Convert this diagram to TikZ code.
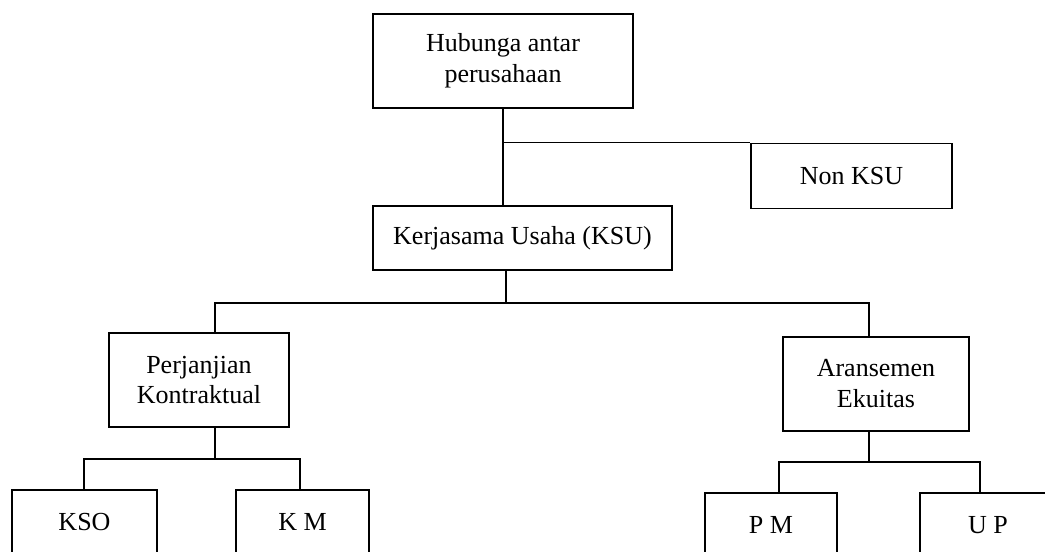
\documentclass[tikz,border=0pt]{standalone}
\usepackage{fontspec}
\setmainfont{Liberation Serif}
\usepackage{tikz}

\begin{document}
\begin{tikzpicture}
  [
    x=0.025cm, y=-0.025cm,
    box/.style={draw=black, line width=1.1pt, align=center, inner sep=0pt,
      font=\fontsize{18.5}{22}\selectfont},
    ln/.style={draw=black, line width=1.1pt}
  ]
  \useasboundingbox (0,0) rectangle (1045,552);

  \node (hub)    at (503,61)    [box, minimum width=6.5cm,   minimum height=2.35cm] {Hubunga antar\\perusahaan};
  \node (nonksu) at (851.5,176) [box, minimum width=5.025cm, minimum height=1.625cm] {Non KSU};
  \node (ksu)    at (522.5,238) [box, minimum width=7.475cm, minimum height=1.6cm] {Kerjasama Usaha (KSU)};

  \node (perj)   at (199,380)   [box, minimum width=4.5cm,   minimum height=2.35cm] {Perjanjian\\Kontraktual};
  \node (aran)   at (876,384)   [box, minimum width=4.65cm,  minimum height=2.35cm] {Aransemen\\Ekuitas};

  \node (kso)    at (84.5,522)  [box, minimum width=3.625cm, minimum height=1.6cm] {KSO};
  \node (km)     at (302.5,522) [box, minimum width=3.325cm, minimum height=1.6cm] {K M};
  \node (pm)     at (771,525)   [box, minimum width=3.3cm,   minimum height=1.6cm] {P M};
  \node (up)     at (988,525)   [box, minimum width=3.4cm,   minimum height=1.6cm] {U P};

  % bus points
  \coordinate (t1) at (506,303);
  \coordinate (b1) at (215,303);
  \coordinate (b2) at (869,303);
  \coordinate (c1) at (84,459);
  \coordinate (c2) at (300,459);
  \coordinate (d1) at (779,462);
  \coordinate (d2) at (980,462);

  \draw [ln] (hub.south) -- (hub.south |- ksu.north);
  \draw [ln] (hub.south |- nonksu.north) -- (nonksu.north west);

  \draw [ln] (t1 |- ksu.south) -- (t1);
  \draw [ln] (b1 |- perj.north) -- (b1) -- (b2) -- (b2 |- aran.north);

  \draw [ln] (b1 |- perj.south) -- (b1 |- c1);
  \draw [ln] (c1 |- kso.north) -- (c1) -- (c2) -- (c2 |- km.north);

  \draw [ln] (b2 |- aran.south) -- (b2 |- d1);
  \draw [ln] (d1 |- pm.north) -- (d1) -- (d2) -- (d2 |- up.north);
\end{tikzpicture}
\end{document}
